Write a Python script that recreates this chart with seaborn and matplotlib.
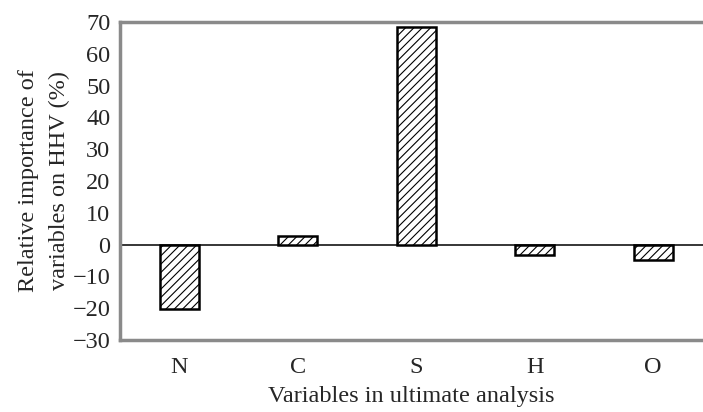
import matplotlib
matplotlib.use("Agg")
import matplotlib.pyplot as plt
import pandas as pd
import seaborn as sns

# values
variables = ["N", "C", "S", "H", "O"]
importance = [-20.3, 2.8, 68.5, -3.3, -4.9]
y_ticks = [-30, -20, -10, 0, 10, 20, 30, 40, 50, 60, 70]

sns.set_style("white")
plt.rcParams["font.family"] = ["Liberation Serif", "DejaVu Serif"]
plt.rcParams["hatch.linewidth"] = 0.8
plt.rcParams["axes.unicode_minus"] = True

df = pd.DataFrame({"variable": variables, "importance": importance})

fig = plt.figure(figsize=(7.03, 4.12), dpi=100)
ax = fig.add_axes([0.1707, 0.1748, 0.8293, 0.7718])

sns.barplot(data=df, x="variable", y="importance", color="white",
            edgecolor="black", linewidth=1.8, width=0.33, saturation=1, ax=ax)
for p in ax.patches:
    p.set_hatch("////")
    p.set_facecolor("white")

ax.axhline(0, color="black", lw=1.1, zorder=0.5)

ax.set_ylim(-30, 70)
ax.set_xlim(-0.5, 4.42)
ax.set_yticks(y_ticks)
ax.set_yticklabels([str(t).replace("-", "\u2212") for t in y_ticks])

for side in ["top", "left", "bottom"]:
    ax.spines[side].set_color("#8a8a8a")
    ax.spines[side].set_linewidth(2.5)
ax.spines["right"].set_visible(False)

ax.tick_params(axis="both", which="major", direction="out", length=6,
               width=1.2, color="black", labelsize=17.5, pad=1)
ax.tick_params(axis="x", pad=6)

ax.set_xlabel("Variables in ultimate analysis", fontsize=17.5, labelpad=6)
ax.set_ylabel("Relative importance of\nvariables on HHV (%)", fontsize=17.5,
              labelpad=2, linespacing=1.6)

fig.savefig("out.png", dpi=100)
